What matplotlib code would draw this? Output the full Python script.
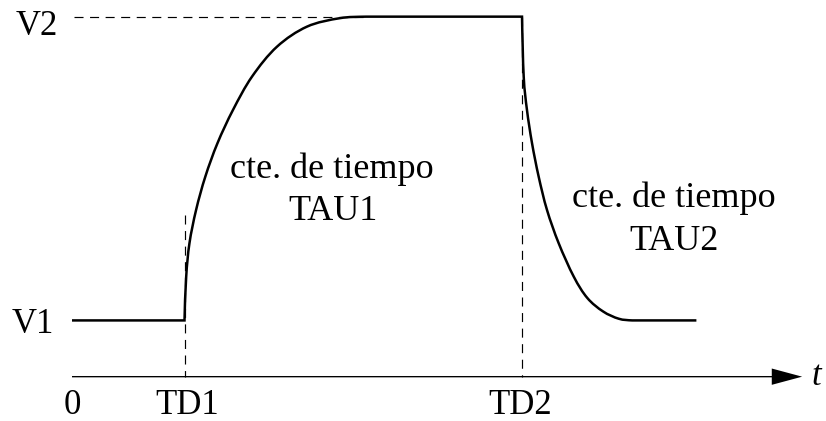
import numpy as np
import matplotlib
matplotlib.use('Agg')
from matplotlib import pyplot
from matplotlib.path import Path
from matplotlib.patches import PathPatch

# levels and times (arbitrary units)
V1, V2 = 0.5, 3.2
TD1, TD2 = 1.0, 4.0
T_END = 5.55
T_AXIS = 6.49
TD1_DASH_TOP = 1.44

# rising edge
rise_t = [1.0, 1.015, 1.044, 1.103, 1.185, 1.293, 1.431, 1.600, 1.822, 2.088, 2.378, 2.615]
rise_v = [0.5, 0.889, 1.186, 1.482, 1.778, 2.075, 2.371, 2.667, 2.933, 3.111, 3.186, 3.2]

# falling edge
fall_t = [4.0, 4.015, 4.044, 4.089, 4.148, 4.222, 4.326, 4.460, 4.58, 4.72, 4.86, 4.98]
fall_v = [3.2, 2.667, 2.371, 2.075, 1.778, 1.482, 1.186, 0.889, 0.70, 0.58, 0.515, 0.5]

pyplot.rcParams['lines.scale_dashes'] = False
FONT = 'Liberation Serif'


def smooth(ts, vs, before, after):
  pts = np.column_stack([ts, vs])
  ext = np.vstack([before, pts, after])
  verts, codes = [], []
  for i in range(1, len(ext) - 2):
    p0, p1, p2, p3 = ext[i - 1], ext[i], ext[i + 1], ext[i + 2]
    verts += [p1 + (p2 - p0) / 6, p2 - (p3 - p1) / 6, p2]
    codes += [Path.CURVE4] * 3
  return verts, codes


def main():
  fig = pyplot.figure(figsize=(8.26, 4.21), dpi=100)
  ax = fig.add_axes([0, 0, 1, 1])
  ax.set_xlim(-0.64, 6.702)
  ax.set_ylim(-0.394, 3.348)
  ax.axis('off')

  verts = [(0, V1), (TD1, V1)]
  codes = [Path.MOVETO, Path.LINETO]
  v, c = smooth(rise_t, rise_v, (TD1, V1 - 0.2), (rise_t[-1] + 0.25, V2))
  verts += v
  codes += c
  verts.append((TD2, V2))
  codes.append(Path.LINETO)
  v, c = smooth(fall_t, fall_v, (TD2, V2 + 0.3), (fall_t[-1] + 0.12, V1))
  verts += v
  codes += c
  verts.append((T_END, V1))
  codes.append(Path.LINETO)
  ax.add_patch(PathPatch(Path(verts, codes), facecolor='none',
                         edgecolor='black', linewidth=1.8,
                         joinstyle='miter', capstyle='butt', zorder=3))

  dash = dict(color='black', linewidth=0.85, linestyle=(0, (6.5, 4.7)), zorder=2)
  ax.plot([0.018, rise_t[-1]], [V2, V2], **dash)
  ax.plot([TD1, TD1], [TD1_DASH_TOP, 0], **dash)
  ax.plot([TD2, TD2], [V2, 0], **dash)

  ax.arrow(0, 0, T_AXIS, 0, width=0.012, head_width=0.145, head_length=0.27,
           length_includes_head=True, facecolor='black', edgecolor='none')

  lab = dict(fontsize=25, family=FONT, ha='center', va='baseline')
  ax.text(-0.311, V2 - 0.163, 'V2', **lab)
  ax.text(-0.347, V1 - 0.112, 'V1', **lab)
  ax.text(0, -0.33, '0', **lab)
  ax.text(TD1 + 0.02, -0.33, 'TD1', **lab)
  ax.text(TD2 - 0.02, -0.33, 'TD2', **lab)
  ax.text(6.62, -0.074, 't', style='italic', **lab)

  txt = dict(fontsize=26, family=FONT, ha='center', va='baseline')
  ax.text(2.31, 1.766, 'cte. de tiempo', **txt)
  ax.text(2.32, 1.393, 'TAU1', **txt)
  ax.text(5.351, 1.508, 'cte. de tiempo', **txt)
  ax.text(5.351, 1.126, 'TAU2', **txt)

  fig.savefig('out.png', dpi=100)


if __name__ == '__main__':
  main()
